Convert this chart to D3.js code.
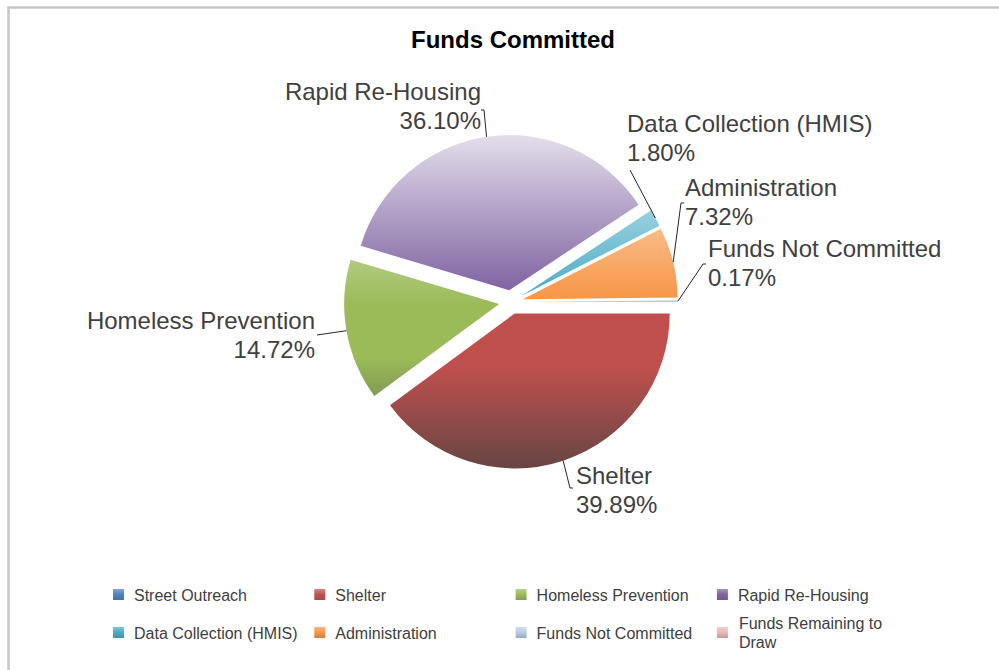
<!DOCTYPE html>
<html>
<head>
<meta charset="utf-8">
<script src="https://cdn.jsdelivr.net/npm/d3@7"></script>
<style>
  body { margin: 0; background: #fff; }
  text { font-family: "Liberation Sans", Arial, sans-serif; fill: #404040; }
</style>
</head>
<body>
<svg width="999" height="670"></svg>
<script>
// data
const categories = ["Street Outreach", "Shelter", "Homeless Prevention", "Rapid Re-Housing",
  "Data Collection (HMIS)", "Administration", "Funds Not Committed", "Funds Remaining to Draw"];
const percents = [0, 39.89, 14.72, 36.10, 1.80, 7.32, 0.17, 0];
const baseColors = ["#4f81bd", "#c0504d", "#9bbb59", "#8064a2", "#4bacc6", "#f79646", "#b9cde5", "#e6b9b8"];

// where each data label sits (leader end, text anchor, first baseline)
const labelLayout = {
  "Shelter":                {lx: 570, ly: 488, hook: 3,  tx: 576, ty: 484, anchor: "start"},
  "Homeless Prevention":    {lx: 317, ly: 335, hook: 0,  tx: 315, ty: 329, anchor: "end"},
  "Rapid Re-Housing":       {lx: 484, ly: 110, hook: -3, tx: 481, ty: 100, anchor: "end"},
  "Data Collection (HMIS)": {lx: 630, ly: 170, hook: 0,  tx: 627, ty: 132, anchor: "start"},
  "Administration":         {lx: 681, ly: 203, hook: 3,  tx: 685, ty: 196, anchor: "start"},
  "Funds Not Committed":    {lx: 703, ly: 264, hook: 3,  tx: 708, ty: 257, anchor: "start"}
};

const svg = d3.select("svg");
const defs = svg.append("defs");

// frame (left + top only)
svg.append("path")
  .attr("d", "M8.5,670V7.5H999")
  .attr("fill", "none")
  .attr("stroke", "#c8c8c8")
  .attr("stroke-width", 2.5);

svg.append("text")
  .attr("x", 513).attr("y", 48)
  .attr("text-anchor", "middle")
  .style("font-size", "24px")
  .style("font-weight", "bold")
  .style("fill", "#000")
  .text("Funds Committed");

const cx = 511, cy = 302, r = 155, explode = 12;

const data = categories.map((c, i) => ({name: c, value: percents[i], color: baseColors[i], idx: i}));

const pie = d3.pie()
  .sort(null)
  .value(d => d.value)
  .startAngle(Math.PI / 2)
  .endAngle(Math.PI / 2 + 2 * Math.PI);
const arc = d3.arc().innerRadius(0).outerRadius(r);

const light = (c, t) => d3.interpolateRgb(c, "#ffffff")(t);
const dark = (c, t) => d3.interpolateRgb(c, "#404040")(t);

// shaded fill per slice, lit from the top of the pie (slice's own coordinates)
data.forEach(d => {
  const g = defs.append("linearGradient")
    .attr("id", "grad" + d.idx)
    .attr("gradientUnits", "userSpaceOnUse")
    .attr("x1", 0).attr("x2", 0)
    .attr("y1", -r - explode).attr("y2", r + explode);
  [[0, light(d.color, 0.85)], [0.25, light(d.color, 0.42)], [0.5, d.color],
   [0.66, d.color], [1, dark(d.color, 0.78)]]
    .forEach(s => g.append("stop").attr("offset", s[0]).attr("stop-color", s[1]));

  const m = defs.append("linearGradient")
    .attr("id", "mark" + d.idx)
    .attr("x1", 0).attr("x2", 0).attr("y1", 0).attr("y2", 1);
  [[0, light(d.color, 0.3)], [0.5, d.color], [1, dark(d.color, 0.25)]]
    .forEach(s => m.append("stop").attr("offset", s[0]).attr("stop-color", s[1]));
});

const arcs = pie(data).filter(a => a.data.value > 0);
const shift = a => {
  const mid = (a.startAngle + a.endAngle) / 2;
  return [Math.sin(mid) * explode, -Math.cos(mid) * explode];
};

const g = svg.append("g").attr("transform", `translate(${cx},${cy})`);
g.selectAll("path.slice")
  .data(arcs)
  .enter()
  .append("path")
    .attr("class", "slice")
    .attr("d", arc)
    .attr("transform", a => `translate(${shift(a)})`)
    .attr("fill", a => `url(#grad${a.data.idx})`);

// leader lines + labels
const fmt = d3.format(".2f");
arcs.forEach(a => {
  const lay = labelLayout[a.data.name];
  const mid = (a.startAngle + a.endAngle) / 2;
  const ex = cx + Math.sin(mid) * (r + explode);
  const ey = cy - Math.cos(mid) * (r + explode);
  svg.append("path")
    .attr("d", `M${ex},${ey}L${lay.lx},${lay.ly}h${lay.hook}`)
    .attr("fill", "none")
    .attr("stroke", "#262626")
    .attr("stroke-width", 1);
  const t = svg.append("text")
    .attr("text-anchor", lay.anchor)
    .style("font-size", "24px");
  t.append("tspan").attr("x", lay.tx).attr("y", lay.ty).text(a.data.name);
  t.append("tspan").attr("x", lay.tx).attr("y", lay.ty + 29).text(fmt(a.data.value) + "%");
});

// legend, 4 columns x 2 rows
const legend = svg.append("g");
data.forEach((d, i) => {
  const col = i % 4, row = Math.floor(i / 4);
  const x = 113 + col * 201.3, y = 595 + row * 38;
  legend.append("rect")
    .attr("x", x).attr("y", y - 6)
    .attr("width", 11).attr("height", 11)
    .attr("fill", `url(#mark${d.idx})`);
  const t = legend.append("text")
    .attr("x", x + 21)
    .style("font-size", "16px");
  if (d.name == "Funds Remaining to Draw") {
    t.append("tspan").attr("x", x + 22).attr("y", y - 4).text("Funds Remaining to");
    t.append("tspan").attr("x", x + 22).attr("y", y + 15).text("Draw");
  } else {
    t.attr("y", y + 6).text(d.name);
  }
});
</script>
</body>
</html>
